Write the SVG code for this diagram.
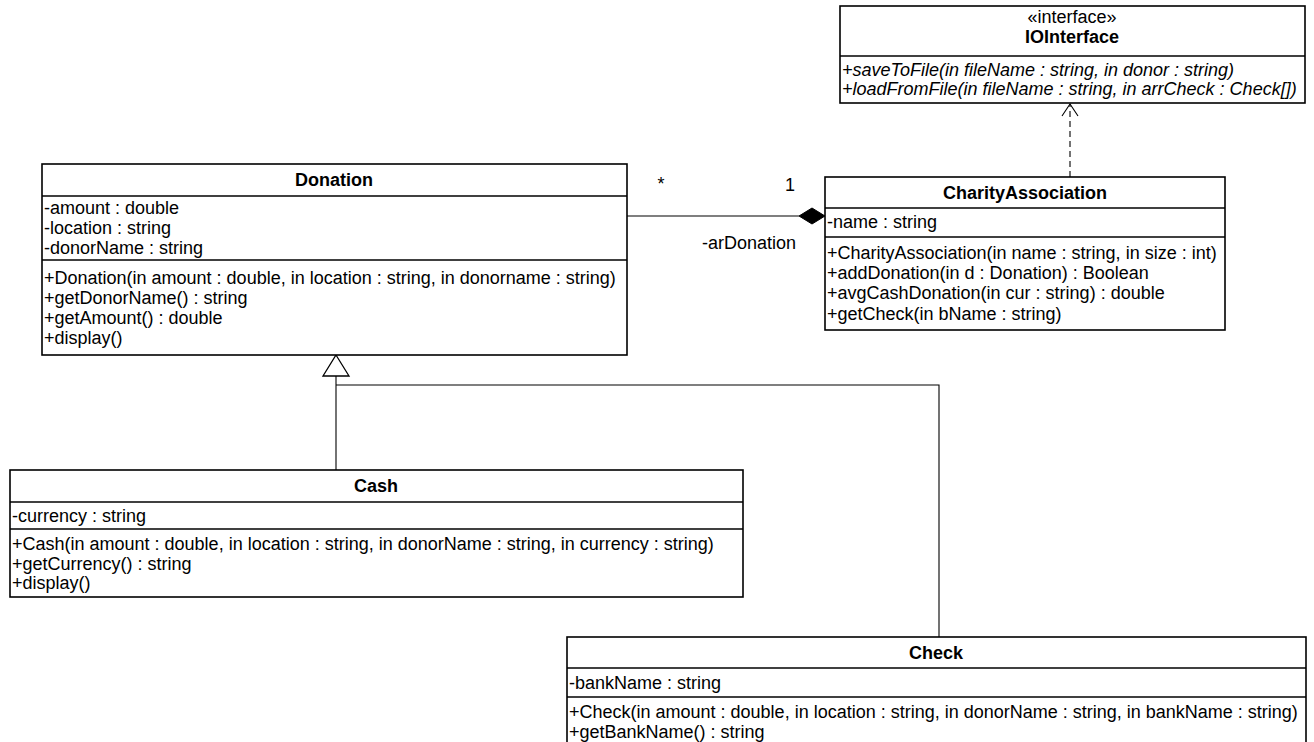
<svg xmlns="http://www.w3.org/2000/svg" width="1314" height="742" viewBox="0 0 1314 742">
<style>
text{font-family:"Liberation Sans",Arial,sans-serif;font-size:18px;fill:#000}
.b{font-weight:bold;text-anchor:middle}
.c{text-anchor:middle}
.i{font-style:italic}
.box{fill:#fff;stroke:#000;stroke-width:1.6}
.div{stroke:#000;stroke-width:1.6}
.ln{fill:none;stroke:#000;stroke-width:1.1}
</style>
<rect width="1314" height="742" fill="#fff"/>
<g id="connectors">
  <line class="ln" x1="627" y1="216" x2="799" y2="216"/>
  <polygon points="799,216 812,208 825,216 812,224" fill="#000" stroke="#000" stroke-width="1"/>
  <text x="661" y="190" class="c">*</text>
  <text x="790" y="191" class="c">1</text>
  <text x="749" y="249" class="c">-arDonation</text>
  <polyline class="ln" points="336,376 336,482"/>
  <polyline class="ln" points="336,385 939,385 939,637"/>
  <polygon points="336,355 349,376 323,376" fill="#fff" stroke="#000" stroke-width="1.3"/>
  <line class="ln" x1="1070" y1="177" x2="1070" y2="104" stroke-dasharray="6,4"/>
  <polyline class="ln" points="1062,116 1070,104 1078,116"/>
</g>
<g id="IOInterface">
  <rect class="box" x="840" y="6" width="465" height="97"/>
  <text x="1072" y="23" class="c">«interface»</text>
  <text x="1072" y="43" class="b">IOInterface</text>
  <line class="div" x1="840" y1="56" x2="1305" y2="56"/>
  <text x="842" y="76" class="i">+saveToFile(in fileName : string, in donor : string)</text>
  <text x="842" y="95" class="i">+loadFromFile(in fileName : string, in arrCheck : Check[])</text>
</g>
<g id="Donation">
  <rect class="box" x="42" y="164" width="585" height="191"/>
  <text x="334" y="186" class="b">Donation</text>
  <line class="div" x1="42" y1="196" x2="627" y2="196"/>
  <text x="44" y="214">-amount : double</text>
  <text x="44" y="234">-location : string</text>
  <text x="44" y="254">-donorName : string</text>
  <line class="div" x1="42" y1="260" x2="627" y2="260"/>
  <text x="44" y="284">+Donation(in amount : double, in location : string, in donorname : string)</text>
  <text x="44" y="304">+getDonorName() : string</text>
  <text x="44" y="324">+getAmount() : double</text>
  <text x="44" y="344">+display()</text>
</g>
<g id="CharityAssociation">
  <rect class="box" x="825" y="177" width="400" height="153"/>
  <text x="1025" y="199" class="b">CharityAssociation</text>
  <line class="div" x1="825" y1="208" x2="1225" y2="208"/>
  <text x="827" y="228">-name : string</text>
  <line class="div" x1="825" y1="237" x2="1225" y2="237"/>
  <text x="827" y="259">+CharityAssociation(in name : string, in size : int)</text>
  <text x="827" y="279">+addDonation(in d : Donation) : Boolean</text>
  <text x="827" y="299">+avgCashDonation(in cur : string) : double</text>
  <text x="827" y="320">+getCheck(in bName : string)</text>
</g>
<g id="Cash">
  <rect class="box" x="10" y="470" width="733" height="127"/>
  <text x="376" y="492" class="b">Cash</text>
  <line class="div" x1="10" y1="502" x2="743" y2="502"/>
  <text x="12" y="522">-currency : string</text>
  <line class="div" x1="10" y1="529" x2="743" y2="529"/>
  <text x="12" y="550">+Cash(in amount : double, in location : string, in donorName : string, in currency : string)</text>
  <text x="12" y="570">+getCurrency() : string</text>
  <text x="12" y="589">+display()</text>
</g>
<g id="Check">
  <rect class="box" x="567" y="637" width="739" height="120"/>
  <text x="936" y="659" class="b">Check</text>
  <line class="div" x1="567" y1="668" x2="1306" y2="668"/>
  <text x="569" y="689">-bankName : string</text>
  <line class="div" x1="567" y1="697" x2="1306" y2="697"/>
  <text x="569" y="718">+Check(in amount : double, in location : string, in donorName : string, in bankName : string)</text>
  <text x="569" y="738">+getBankName() : string</text>
</g>
</svg>
